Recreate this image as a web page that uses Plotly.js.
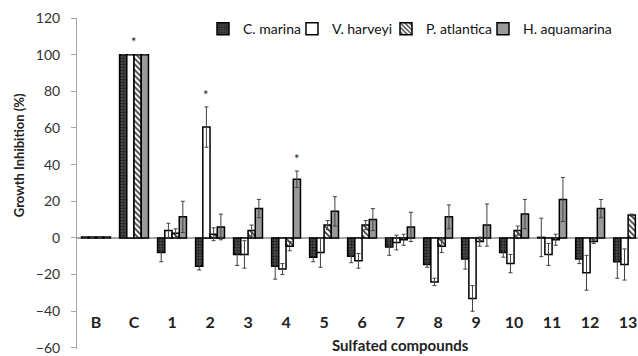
<!DOCTYPE html>
<html>
<head>
<meta charset="utf-8">
<script src="https://cdn.plot.ly/plotly-3.0.1.min.js"></script>
<style>html,body{margin:0;padding:0;background:#fff;overflow:hidden}</style>
</head>
<body>
<div id="chart" style="width:638px;height:356px"></div>
<script>
var categories = ['B','C','1','2','3','4','5','6','7','8','9','10','11','12','13'];
var seriesNames = ['C. marina','V. harveyi','P. atlantica','H. aquamarina'];
var cMarina      = [0.5, 100, -8, -15.5, -9, -15.5, -10.5, -10, -5, -14.5, -11.5, -8, 0.3, -11.5, -13];
var cMarinaErr   = [0, 0, 5, 2, 6, 7, 2.5, 3.5, 4.5, 1.5, 5.5, 2.5, 10.5, 2.5, 9];
var vHarveyi     = [0.5, 100, 4, 60.5, -9, -17, -8, -12.5, -2.5, -24, -33, -14, -9, -19, -14.5];
var vHarveyiErr  = [0, 0, 4, 11, 7.5, 3, 8, 4, 4, 2, 7, 5, 6, 9.5, 8.5];
var pAtlantica   = [0.5, 100, 2.5, 2, 4, -4.5, 7, 7, -1, -4.5, -2, 4, -1, -2, 12.5];
var pAtlanticaErr= [0, 0, 2.5, 3.5, 3, 2.5, 2.5, 2.5, 3, 3.5, 2.5, 2.5, 3, 1, 0.5];
var hAquamarina  = [0.5, 100, 11.5, 6, 16, 32, 14.5, 10, 6, 11.5, 7, 13, 21, 16, null];
var hAquamarinaErr=[0, 0, 8.5, 7, 5, 4.5, 8, 6, 8, 6.5, 11.5, 8, 12, 5, null];
var yTicks = [-60, -40, -20, 0, 20, 40, 60, 80, 100, 120];
// significance marks: [category, series index, y position]
var starCats = ['C', '2', '4'];
var starSeries = [1.5, 1, 3];
var starY = [107, 78, 43];

var font = 'Lato, "Open Sans", sans-serif';
var values = [cMarina, vHarveyi, pAtlantica, hAquamarina];
var errs = [cMarinaErr, vHarveyiErr, pAtlanticaErr, hAquamarinaErr];
var styles = [
  {color:'#3d3d3d', pattern:{shape:'.', fgcolor:'#151515', bgcolor:'#4a4a4a', size:3, solidity:0.4}},
  {color:'#ffffff'},
  {color:'#ffffff', pattern:{shape:'\\', fgcolor:'#303030', bgcolor:'#ffffff', size:4, solidity:0.4}},
  {color:'#9a9a9a'}
];
var legendIds = ['legend', 'legend2', 'legend3', 'legend4'];
var legendX = [0.2246, 0.3832, 0.5508, 0.7237];

var traces = seriesNames.map(function(n, i){
  var m = {color: styles[i].color, line:{color:'#000', width:1.5}};
  if (styles[i].pattern) m.pattern = styles[i].pattern;
  return {
    type:'bar', name:n, x:categories, y:values[i], marker:m, legend:legendIds[i],
    error_y:{type:'data', array:errs[i], visible:true, color:'#404040', thickness:1, width:2},
    hoverinfo:'x+y+name'
  };
});

var annotations = starCats.map(function(c, k){
  return {x:categories.indexOf(c), y:starY[k], xref:'x', yref:'y', text:'*', showarrow:false,
    xshift:(starSeries[k]-1.5)*7.3, font:{family:font, size:13, color:'#222'}};
});
annotations.push({text:'<b>Growth Inhibition (%)</b>', xref:'paper', yref:'paper',
  x:-0.102, y:0.585, xanchor:'center', yanchor:'middle', textangle:-90, showarrow:false,
  font:{family:font, size:13, color:'#222'}});
annotations.push({text:'<b>Sulfated compounds</b>', xref:'paper', yref:'paper',
  x:0.576, y:0.012, xanchor:'center', yanchor:'middle', showarrow:false,
  font:{family:font, size:15, color:'#222'}});

var layout = {
  width:638, height:356,
  margin:{l:77, r:0, t:18, b:7, pad:0},
  paper_bgcolor:'#fff', plot_bgcolor:'#fff',
  barmode:'group', bargap:0.24, bargroupgap:0,
  showlegend:true,
  xaxis:{type:'category', range:[-0.5, 14.26], anchor:'free', position:0.115,
    showline:false, ticks:'', showgrid:false, zeroline:false,
    tickfont:{family:font, size:16, color:'#222', weight:'bold'}},
  yaxis:{range:[-60.6, 120], tickvals:yTicks, showgrid:false, showline:true, linecolor:'#a6a6a6', linewidth:1,
    ticks:'outside', ticklen:5, tickcolor:'#a6a6a6', zeroline:true, zerolinecolor:'#a6a6a6', zerolinewidth:1.5,
    ticklabelstandoff:8, ticklabeloverflow:'allow',
    tickfont:{family:font, size:14, color:'#333'}},
  annotations:annotations
};
legendIds.forEach(function(id, i){
  layout[id] = {x:legendX[i], xanchor:'left', y:1.015, yanchor:'top', orientation:'h',
    font:{family:font, size:14, color:'#111'}, bgcolor:'rgba(0,0,0,0)', itemwidth:30};
});
Plotly.newPlot('chart', traces, layout, {displayModeBar:false, staticPlot:true});
</script>
</body>
</html>
